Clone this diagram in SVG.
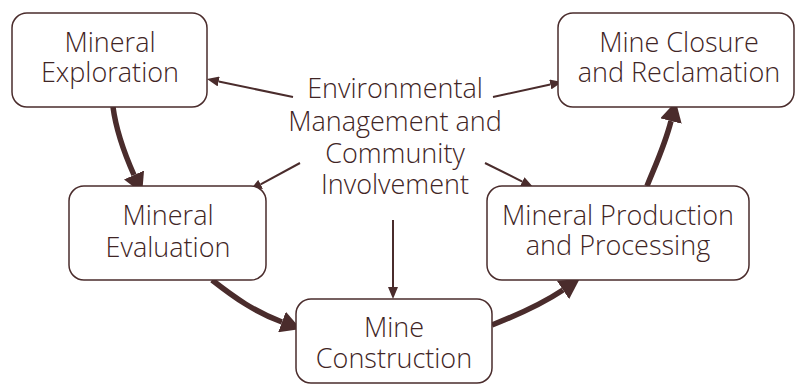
<svg xmlns="http://www.w3.org/2000/svg" width="795" height="385" viewBox="0 0 795 385">
<defs>
<style>
.box{fill:#ffffff;stroke:#4a2c2c;stroke-width:1.5}
.t{font-family:"Open Sans","Noto Sans","Liberation Sans",sans-serif;font-weight:300;font-size:27px;fill:#3f2525;text-anchor:middle}
.thin{fill:none;stroke:#4a2c2c;stroke-width:2}
.thick{fill:none;stroke:#4a2c2c;stroke-width:5.5}
</style>
<marker id="ah" markerUnits="userSpaceOnUse" markerWidth="12" markerHeight="10" refX="0" refY="5" orient="auto" viewBox="0 0 12 10">
<path d="M0,0 L12,5 L0,10 Z" fill="#4a2c2c"/>
</marker>
<marker id="AH" markerUnits="userSpaceOnUse" markerWidth="20" markerHeight="22" refX="0" refY="11" orient="auto" viewBox="0 0 20 22">
<path d="M0,0 L20,11 L0,22 Z" fill="#4a2c2c"/>
</marker>
</defs>
<rect width="795" height="385" fill="#ffffff"/>
<g id="connectors">
<path class="thin" d="M293,97 L218.7,81.5" marker-end="url(#ah)"/>
<path class="thin" d="M300,163 L260.6,184.3" marker-end="url(#ah)"/>
<path class="thin" d="M493,97 L550.3,84.5" marker-end="url(#ah)"/>
<path class="thin" d="M485,163 L522.3,181.6" marker-end="url(#ah)"/>
<path class="thin" d="M393,220 L393,287" marker-end="url(#ah)"/>
<path class="thick" d="M113,107 Q117,137 134,175" marker-end="url(#AH)"/>
<path class="thick" d="M212,280 C235,298 255,312 282,322" marker-end="url(#AH)"/>
<path class="thick" d="M492,325 C520,314 545,302 563,290" marker-end="url(#AH)"/>
<path class="thick" d="M647,186 C655,166 665,145 671,121" marker-end="url(#AH)"/>
</g>
<g id="exploration">
<rect class="box" x="12" y="13" width="195" height="94" rx="15"/>
<text class="t" x="110" y="52">Mineral</text>
<text class="t" x="110" y="82">Exploration</text>
</g>
<g id="evaluation">
<rect class="box" x="69" y="186" width="197" height="94" rx="15"/>
<text class="t" x="168" y="225">Mineral</text>
<text class="t" x="168" y="257">Evaluation</text>
</g>
<g id="construction">
<rect class="box" x="296" y="299" width="196" height="84" rx="15"/>
<text class="t" x="394" y="337">Mine</text>
<text class="t" x="394" y="368">Construction</text>
</g>
<g id="production">
<rect class="box" x="487" y="186" width="262" height="94" rx="15"/>
<text class="t" x="618" y="225">Mineral Production</text>
<text class="t" x="618" y="255">and Processing</text>
</g>
<g id="closure">
<rect class="box" x="558" y="13" width="236" height="94" rx="15"/>
<text class="t" x="679" y="52">Mine Closure</text>
<text class="t" x="679" y="82">and Reclamation</text>
</g>
<g id="environmental">
<text class="t" x="395" y="98">Environmental</text>
<text class="t" x="395" y="131">Management and</text>
<text class="t" x="395" y="163">Community</text>
<text class="t" x="395" y="194">Involvement</text>
</g>
</svg>
